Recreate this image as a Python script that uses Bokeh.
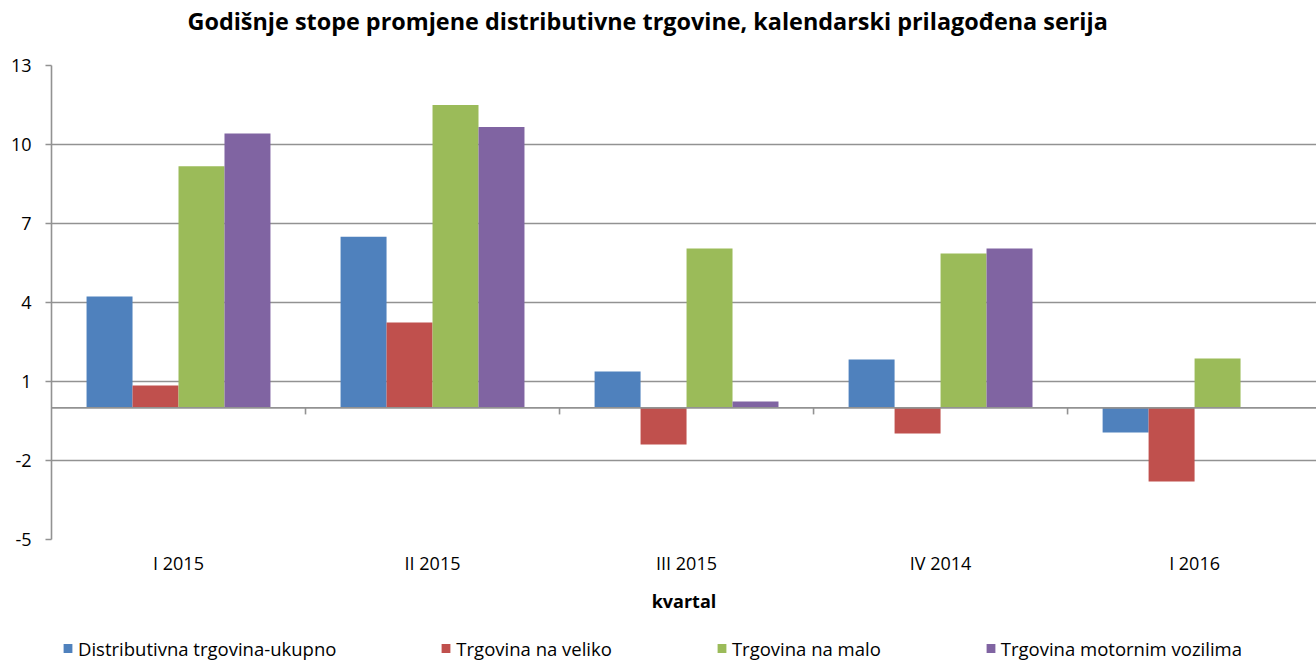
import numpy as np
from bokeh.plotting import figure
from bokeh.layouts import column
from bokeh.models import ColumnDataSource, Range1d, Legend, LegendItem, Span, FixedTicker
from bokeh.embed import file_html
from bokeh.resources import INLINE

categories = ["I 2015", "II 2015", "III 2015", "IV 2014", "I 2016"]
series_names = ["Distributivna trgovina-ukupno", "Trgovina na veliko", "Trgovina na malo", "Trgovina motornim vozilima"]
ukupno = [4.23, 6.5, 1.38, 1.84, -0.94]
veliko = [0.85, 3.24, -1.39, -0.97, -2.8]
malo = [9.17, 11.5, 6.05, 5.86, 1.87]
vozila = [10.42, 10.66, 0.24, 6.05, np.nan]
colors = ["#4F81BD", "#C0504D", "#9BBB59", "#8064A2"]
y_ticks = [-5, -2, 1, 4, 7, 10, 13]
title_text = "Godišnje stope promjene distributivne trgovine, kalendarski prilagođena serija"

FONT = "Open Sans"
GRID = "#929292"
W = 1316

n = len(categories)
centers = np.arange(n) + 0.5
bw = 0.181


def strip(height):
    f = figure(width=W, height=height, output_backend="svg", toolbar_location=None,
               min_border=0, x_axis_location=None, y_axis_location=None)
    f.xgrid.grid_line_color = None
    f.ygrid.grid_line_color = None
    f.outline_line_color = None
    return f


# title strip above the chart
t = strip(48)
t.title.text = title_text
t.title.text_font = FONT
t.title.text_font_size = "23.4px"
t.title.text_font_style = "bold"
t.title.text_color = "black"
t.title.align = "left"
t.title.offset = 136
t.title.standoff = 4

p = figure(x_range=Range1d(0, 4.98), y_range=Range1d(-5, 13),
           width=W, height=588, output_backend="svg", toolbar_location=None,
           min_border_left=51, min_border_right=0, min_border_top=17, min_border_bottom=97)

sources = []
renderers = []
for i, (vals, col) in enumerate(zip([ukupno, veliko, malo, vozila], colors)):
    src = ColumnDataSource(data=dict(x=centers + (i - 1.5) * bw, top=vals))
    sources.append(src)
    r = p.vbar(x="x", top="top", bottom=0, width=bw, source=src,
               fill_color=col, line_color=None)
    renderers.append(r)

p.add_layout(Span(location=0, dimension="width", line_color=GRID, line_width=1.6))
bnd = np.arange(1, n)
p.segment(x0=bnd, x1=bnd, y0=np.zeros(n - 1), y1=np.full(n - 1, -0.25),
          line_color=GRID, line_width=1.6)

p.yaxis.ticker = FixedTicker(ticks=y_ticks)
p.yaxis.major_label_overrides = {t_: str(t_) for t_ in y_ticks}
p.yaxis.major_label_text_font = FONT
p.yaxis.major_label_text_font_size = "18px"
p.yaxis.major_label_text_color = "black"
p.yaxis.axis_line_color = GRID
p.yaxis.axis_line_width = 1.6
p.yaxis.major_tick_line_color = GRID
p.yaxis.major_tick_line_width = 1.6
p.yaxis.major_tick_in = 0
p.yaxis.major_tick_out = 6
p.yaxis.minor_tick_line_color = None
p.yaxis.major_label_standoff = 14

p.xaxis.ticker = FixedTicker(ticks=list(centers))
p.xaxis.major_label_overrides = {float(c): lab for c, lab in zip(centers, categories)}
p.xaxis.axis_line_color = None
p.xaxis.major_tick_line_color = None
p.xaxis.minor_tick_line_color = None
p.xaxis.major_label_text_font = FONT
p.xaxis.major_label_text_font_size = "18px"
p.xaxis.major_label_text_color = "black"
p.xaxis.major_label_standoff = 5
p.xaxis.axis_label = "kvartal"
p.xaxis.axis_label_text_font = FONT
p.xaxis.axis_label_text_font_size = "18px"
p.xaxis.axis_label_text_font_style = "bold"
p.xaxis.axis_label_text_color = "black"
p.xaxis.axis_label_standoff = 11

p.xgrid.grid_line_color = None
p.ygrid.grid_line_color = GRID
p.ygrid.grid_line_width = 1.6
p.outline_line_color = None

# legend strip below the chart (hidden copies of the bar renderers feed the legend)
q = strip(24)
leg_renderers = []
for src, c in zip(sources, colors):
    r = q.vbar(x="x", top="top", bottom=0, width=bw, source=src, fill_color=c, line_color=None)
    r.visible = False
    leg_renderers.append(r)
legend = Legend(items=[LegendItem(label=nm, renderers=[r]) for nm, r in zip(series_names, leg_renderers)],
                orientation="horizontal", location="left", spacing=104,
                glyph_width=11, glyph_height=11, label_standoff=5,
                label_text_font=FONT, label_text_font_size="18.5px", label_text_color="black",
                padding=0, margin=11, border_line_color=None, background_fill_alpha=0)
q.add_layout(legend)

layout = column(t, p, q, spacing=0)
open("out.html", "w").write(file_html(layout, INLINE))
